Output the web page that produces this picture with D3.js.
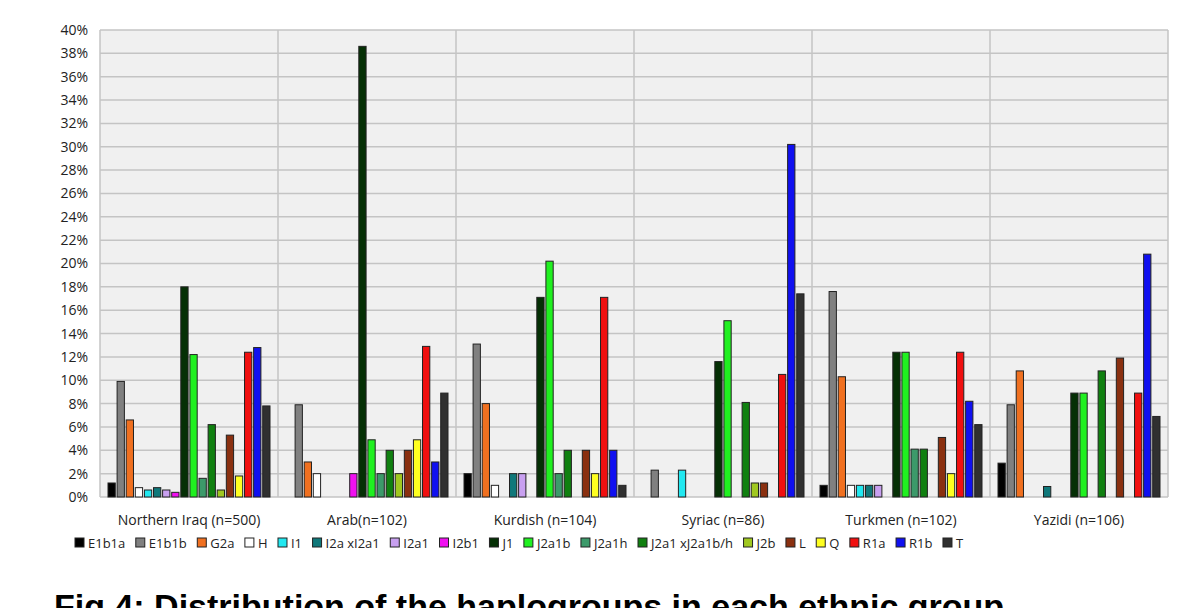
<!DOCTYPE html>
<html><head><meta charset="utf-8">
<script src="https://cdn.jsdelivr.net/npm/d3@7"></script>
<style>body{margin:0;background:#fff}svg{display:block}</style>
</head><body>
<svg id="chart" width="1200" height="608"></svg>
<script>
"use strict";

const groups = ["Northern Iraq (n=500)", "Arab(n=102)", "Kurdish (n=104)", "Syriac (n=86)", "Turkmen (n=102)", "Yazidi (n=106)"];
const haplos = ["E1b1a", "E1b1b", "G2a", "H", "I1", "I2a xI2a1", "I2a1", "I2b1", "J1", "J2a1b", "J2a1h", "J2a1 xJ2a1b/h", "J2b", "L", "Q", "R1a", "R1b", "T"];
const colors = ["#000000", "#808080", "#f07020", "#ffffff", "#22e8f0", "#10787a", "#c8a0f0", "#f010f0", "#053005", "#20f020", "#3c9a6a", "#108010", "#a0c820", "#8a3010", "#ffff20", "#f01010", "#1010f0", "#303030"];
const values = [
  [1.2, 9.9, 6.6, 0.8, 0.6, 0.8, 0.6, 0.4, 18, 12.2, 1.6, 6.2, 0.6, 5.3, 1.8, 12.4, 12.8, 7.8],
  [0, 7.9, 3, 2, 0, 0, 0, 2, 38.6, 4.9, 2, 4, 2, 4, 4.9, 12.9, 3, 8.9],
  [2, 13.1, 8, 1, 0, 2, 2, 0, 17.1, 20.2, 2, 4, 0, 4, 2, 17.1, 4, 1],
  [0, 2.3, 0, 0, 2.3, 0, 0, 0, 11.6, 15.1, 0, 8.1, 1.2, 1.2, 0, 10.5, 30.2, 17.4],
  [1, 17.6, 10.3, 1, 1, 1, 1, 0, 12.4, 12.4, 4.1, 4.1, 0, 5.1, 2, 12.4, 8.2, 6.2],
  [2.9, 7.9, 10.8, 0, 0, 0.9, 0, 0, 8.9, 8.9, 0, 10.8, 0, 11.9, 0, 8.9, 20.8, 6.9]
];
const yTicks = d3.range(0, 41, 2);

const svg = d3.select("#chart");
const plotLeft = 100, plotRight = 1168, plotTop = 30, plotBottom = 497;

const x0 = d3.scaleBand().domain(groups).range([plotLeft, plotRight]);
const x1 = d3.scaleBand().domain(haplos).range([8, x0.bandwidth() - 8]).paddingInner(0.2);
const y = d3.scaleLinear().domain([0, 40]).range([plotBottom, plotTop]);

svg.append("rect").attr("x", plotLeft).attr("y", plotTop).attr("width", plotRight - plotLeft).attr("height", plotBottom - plotTop).attr("fill", "#f0f0f0");

svg.append("g").selectAll("line").data(yTicks).join("line")
  .attr("x1", plotLeft).attr("x2", plotRight).attr("y1", d => y(d)).attr("y2", d => y(d))
  .attr("stroke", "#c4c4c4").attr("stroke-width", 1.5);

svg.append("g").selectAll("line").data(d3.range(groups.length + 1)).join("line")
  .attr("x1", i => plotLeft + i * x0.step()).attr("x2", i => plotLeft + i * x0.step())
  .attr("y1", plotTop).attr("y2", plotBottom).attr("stroke", "#c4c4c4").attr("stroke-width", 1.5);

const yAxis = svg.append("g").attr("transform", "translate(" + plotLeft + ",0)")
  .call(d3.axisLeft(y).tickValues(yTicks).tickFormat(d => d + "%").tickSize(0).tickPadding(12));
yAxis.select(".domain").remove();
yAxis.selectAll("text").attr("font-family", "Open Sans").attr("font-size", 14).attr("fill", "#222");

const xAxis = svg.append("g").attr("transform", "translate(0," + plotBottom + ")")
  .call(d3.axisBottom(x0).tickSize(0).tickPadding(18));
xAxis.select(".domain").remove();
xAxis.selectAll("text").attr("font-family", "Open Sans").attr("font-size", 14).attr("fill", "#222");

const g = svg.append("g").selectAll("g").data(values).join("g")
  .attr("transform", (d, i) => "translate(" + x0(groups[i]) + ",0)");
g.selectAll("rect").data(d => d.map((v, j) => ({ v, j })).filter(d => d.v > 0)).join("rect")
  .attr("x", d => x1(haplos[d.j])).attr("width", x1.bandwidth())
  .attr("y", d => y(d.v)).attr("height", d => plotBottom - y(d.v))
  .attr("fill", d => colors[d.j]).attr("stroke", "#222").attr("stroke-width", 1);

// legend
const legend = svg.append("g").attr("transform", "translate(75,548)");
let lx = 0;
haplos.forEach((h, i) => {
  const item = legend.append("g").attr("transform", "translate(" + lx + ",0)");
  item.append("rect").attr("x", 0).attr("y", -10).attr("width", 9).attr("height", 9)
    .attr("fill", colors[i]).attr("stroke", "#222");
  const t = item.append("text").attr("x", 13).attr("y", 0).text(h)
    .attr("font-family", "Open Sans").attr("font-size", 13).attr("fill", "#222");
  lx += 13 + t.node().getComputedTextLength() + 10.5;
});

svg.append("text").attr("x", 54).attr("y", 618)
  .attr("font-family", "Liberation Sans").attr("font-weight", "bold").attr("font-size", 34)
  .text("Fig.4: Distribution of the haplogroups in each ethnic group");
</script>
</body></html>
